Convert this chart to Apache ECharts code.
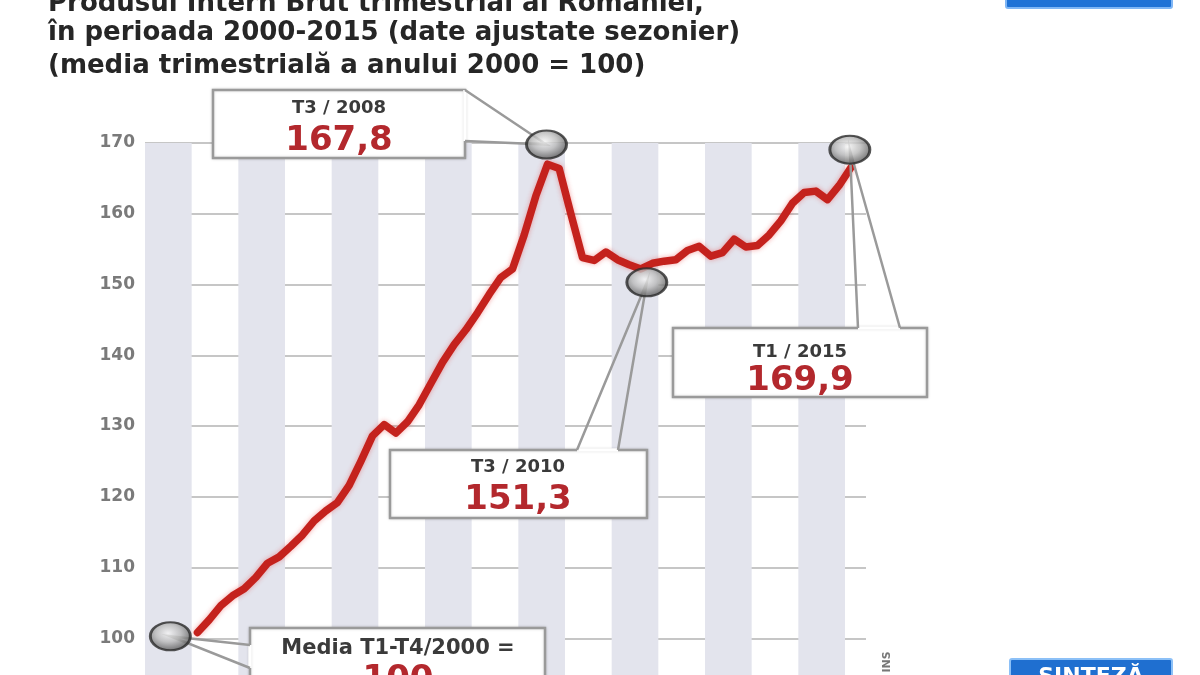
<!DOCTYPE html>
<html><head><meta charset="utf-8">
<script src="https://cdn.jsdelivr.net/npm/echarts@6/dist/echarts.min.js"></script>
<style>html,body{margin:0;padding:0;background:#fff;}#c{width:1200px;height:675px;}</style>
</head><body><div id="c"></div>
<script>
// ---------- DATA ----------
const titleLines = [
  'Produsul Intern Brut trimestrial al României,',
  'în perioada 2000-2015 (date ajustate sezonier)',
  '(media trimestrială a anului 2000 = 100)'
];
const quarters = [
  'T1 2001','T2 2001','T3 2001','T4 2001',
  'T1 2002','T2 2002','T3 2002','T4 2002',
  'T1 2003','T2 2003','T3 2003','T4 2003',
  'T1 2004','T2 2004','T3 2004','T4 2004',
  'T1 2005','T2 2005','T3 2005','T4 2005',
  'T1 2006','T2 2006','T3 2006','T4 2006',
  'T1 2007','T2 2007','T3 2007','T4 2007',
  'T1 2008','T2 2008','T3 2008','T4 2008',
  'T1 2009','T2 2009','T3 2009','T4 2009',
  'T1 2010','T2 2010','T3 2010','T4 2010',
  'T1 2011','T2 2011','T3 2011','T4 2011',
  'T1 2012','T2 2012','T3 2012','T4 2012',
  'T1 2013','T2 2013','T3 2013','T4 2013',
  'T1 2014','T2 2014','T3 2014','T4 2014',
  'T1 2015'
];
const gdpIndex = [
  100.8, 102.6, 104.6, 106.0,
  107.0, 108.6, 110.6, 111.5,
  113.0, 114.6, 116.6, 118.0,
  119.2, 121.6, 125.0, 128.6,
  130.2, 129.0, 130.6, 133.0,
  136.0, 139.0, 141.5, 143.6,
  146.0, 148.6, 151.0, 152.2,
  157.0, 162.5, 167.0, 166.4,
  160.0, 153.8, 153.4, 154.6,
  153.5, 152.8, 152.2, 153.0,
  153.3, 153.5, 154.8, 155.4,
  154.0, 154.5, 156.4, 155.3,
  155.5, 157.0, 159.0, 161.5,
  163.0, 163.2, 162.0, 164.0,
  166.5
];
const yTickValues = [100, 110, 120, 130, 140, 150, 160, 170];
const calloutPeriods = ['2000', 'T3 2008', 'T3 2010', 'T1 2015'];
const calloutTitles = ['Media T1-T4/2000 =', 'T3 / 2008', 'T3 / 2010', 'T1 / 2015'];
const calloutValues = [100, 167.8, 151.3, 169.9];
const calloutValueText = ['100', '167,8', '151,3', '169,9'];

// ---------- LAYOUT ----------
const FONT = '"DejaVu Sans"';
const markerOffsets = [[2, -2], [-1, -14], [6, 7], [-1, 6]];
const boxes = [
  { rect: [250, 628, 295, 80], outline: [[250, 668], 'M', [250, 645]], tx: 398, ty1: 649, ty2: 680, f1: 21 },
  { rect: [213, 90, 252, 68], outline: [[465, 90], 'M', [465, 141]], tx: 339, ty1: 108, ty2: 141, f1: 18 },
  { rect: [390, 450, 257, 68], outline: [[577, 450], 'M', [618, 450]], tx: 518, ty1: 467, ty2: 500, f1: 18 },
  { rect: [673, 328, 254, 69], outline: [[858, 328], 'M', [900, 328]], tx: 800, ty1: 352, ty2: 381, f1: 18 }
];

function periodToYear(p) {
  const m = /^T(\d)\s+(\d{4})$/.exec(p);
  if (m) return +m[2] + (+m[1] - 0.5) / 4;
  return +p + 0.5;
}

const chart = echarts.init(document.getElementById('c'));
const lineData = quarters.map((q, i) => [periodToYear(q), gdpIndex[i]]);
const markerData = calloutPeriods.map((p, i) => ({
  value: [periodToYear(p), calloutValues[i]],
  symbolOffset: markerOffsets[i]
}));

const markerFill = new echarts.graphic.RadialGradient(0.45, 0.4, 0.65, [
  { offset: 0, color: '#f4f4f4' },
  { offset: 0.45, color: '#b8b8b8' },
  { offset: 0.8, color: '#6a6a6a' },
  { offset: 1, color: '#333' }
]);

chart.setOption({
  animation: false,
  backgroundColor: '#ffffff',
  grid: { left: 145, right: 334, top: 143, height: 566, outerBoundsMode: 'none', containLabel: false },
  xAxis: {
    type: 'value', min: 2000, max: 2015.45, interval: 1,
    axisLine: { show: false }, axisTick: { show: false }, axisLabel: { show: false },
    splitLine: { show: false },
    splitArea: { show: true, areaStyle: { color: ['#e3e4ed', 'rgba(255,255,255,0)'] } }
  },
  yAxis: {
    type: 'value', min: 90, max: 170, interval: 10,
    axisLine: { show: false }, axisTick: { show: false },
    axisLabel: {
      color: '#7a7a7a', fontSize: 17, fontWeight: 'bold', fontFamily: 'DejaVu Sans', margin: 10,
      formatter: v => yTickValues.indexOf(v) >= 0 ? String(v) : ''
    },
    splitLine: { lineStyle: { color: '#c6c6c6', width: 2 } }
  },
  series: [
    {
      type: 'line', data: lineData, symbol: 'none', z: 3,
      lineStyle: { color: '#c4221d', width: 7.5, shadowColor: 'rgba(230,60,60,0.45)', shadowBlur: 5, cap: 'round', join: 'round' }
    },
    {
      type: 'scatter', data: markerData, symbol: 'circle', symbolSize: [40, 28], z: 20,
      itemStyle: { color: markerFill, borderColor: '#2b2b2b', borderWidth: 2.5 }
    }
  ]
});

// callout boxes built from marker pixel positions
const graphics = [];
calloutPeriods.forEach((p, i) => {
  const px = chart.convertToPixel({ gridIndex: 0 }, [periodToYear(p), calloutValues[i]]);
  const m = [px[0] + markerOffsets[i][0], px[1] + markerOffsets[i][1]];
  const b = boxes[i];
  const [x, y, w, h] = b.rect;
  graphics.push({
    type: 'rect', z: 10, shape: { x, y, width: w, height: h },
    style: { fill: '#ffffff', stroke: '#9a9a9a', lineWidth: 2.5, shadowColor: 'rgba(0,0,0,0.15)', shadowBlur: 3 }
  });
  const pts = b.outline.map(pt => pt === 'M' ? m : pt);
  graphics.push({
    type: 'line', z: 11,
    shape: { x1: pts[0][0], y1: pts[0][1], x2: pts[2][0], y2: pts[2][1] },
    style: { stroke: '#ffffff', lineWidth: 3.5 }
  });
  graphics.push({
    type: 'polyline', z: 12, shape: { points: pts },
    style: { stroke: '#9a9a9a', lineWidth: 2.5, fill: null }
  });
  graphics.push({
    type: 'text', z: 13, x: b.tx, y: b.ty1,
    style: { text: calloutTitles[i], fill: '#3a3a3a', font: 'bold ' + b.f1 + 'px ' + FONT, align: 'center', verticalAlign: 'middle' }
  });
  graphics.push({
    type: 'text', z: 13, x: b.tx, y: b.ty2,
    style: { text: calloutValueText[i], fill: '#b3282d', font: 'bold 34px ' + FONT, align: 'center', verticalAlign: 'middle' }
  });
});

// title lines
titleLines.forEach((t, i) => {
  graphics.push({
    type: 'text', z: 13, x: 48, y: [4, 33, 66][i],
    style: { text: t, fill: '#262626', font: 'bold 26px ' + FONT, verticalAlign: 'middle' }
  });
});

// broadcast overlays and source
graphics.push({
  type: 'rect', z: 14, shape: { x: 1006, y: -12, width: 166, height: 20, r: 2 },
  style: { fill: '#1f72d6', stroke: '#7fb6f5', lineWidth: 2 }
});
graphics.push({
  type: 'rect', z: 14, shape: { x: 1010, y: 659, width: 162, height: 30, r: 2 },
  style: { fill: '#1f6fd0', stroke: '#8cc0f7', lineWidth: 2 }
});
graphics.push({
  type: 'text', z: 15, x: 1091, y: 677,
  style: { text: 'SINTEZĂ', fill: '#ffffff', font: 'bold 22px ' + FONT, align: 'center', verticalAlign: 'middle' }
});
graphics.push({
  type: 'text', z: 15, x: 887, y: 662, rotation: Math.PI / 2,
  style: { text: 'INS', fill: '#777', font: 'bold 11px ' + FONT, align: 'center', verticalAlign: 'middle' }
});

chart.setOption({ graphic: graphics });
</script>
</body></html>
